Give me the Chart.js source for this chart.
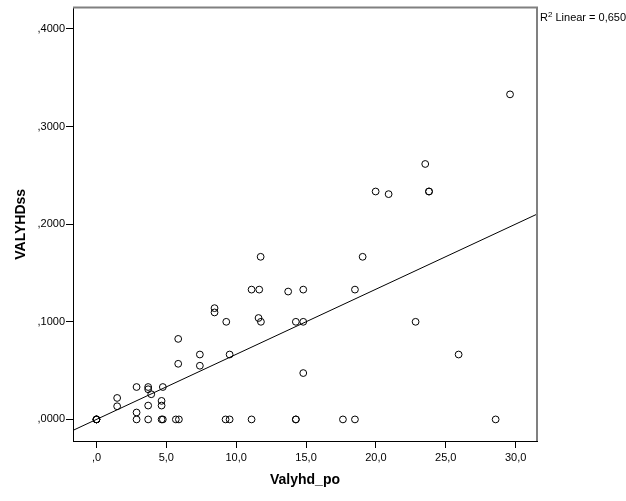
<!DOCTYPE html>
<html lang="en">

<head>
  <script src="https://cdn.jsdelivr.net/npm/chart.js@4/dist/chart.umd.min.js"></script>
  <title>Valyhd_po vs VALYHDss</title>
  <style>
    body { margin: 0; background: #fff; }
    #wrap { width: 626px; height: 501px; }
  </style>
</head>

<body>
  <div id="wrap"><canvas id="myChart" width="626" height="501"></canvas></div>

  <script>
    var valyhdPo = [0, 0, 0, 0, 1.48, 1.48, 2.87, 2.87, 2.87, 3.70, 3.70, 3.92, 3.70, 3.70,
      4.75, 4.66, 4.66, 4.66, 4.75, 5.68, 5.90, 5.85, 5.85, 7.40, 7.40, 8.45, 8.45, 9.29,
      9.53, 9.24, 9.53, 11.10, 11.10, 11.65, 11.75, 11.60, 11.77, 13.72, 14.80, 14.27,
      14.80, 14.80, 14.27, 14.27, 17.64, 18.50, 18.50, 19.05, 19.98, 20.91, 22.84, 23.53,
      23.80, 23.80, 25.92, 28.57, 29.60];
    var valyhdSs = [0, 0, 0, 0, 0.022, 0.0135, 0.0332, 0.0071, 0, 0.0332, 0.0309, 0.0258, 0.0142, 0,
      0.0332, 0.019, 0.0142, 0, 0, 0, 0, 0.0825, 0.057, 0.0665, 0.055, 0.114, 0.1096, 0.100,
      0.0665, 0, 0, 0, 0.133, 0.133, 0.1666, 0.1039, 0.100, 0.131, 0.133, 0.100,
      0.100, 0.0475, 0, 0, 0, 0, 0.133, 0.1666, 0.2335, 0.2308, 0.100, 0.2617,
      0.2335, 0.2335, 0.0665, 0, 0.333];

    // fit line
    var fitSlope = 0.00667;
    var fitIntercept = 0.0;
    var rSquaredText = '0,650';

    var xMin = -1.68, xMax = 31.53;
    var yMin = -0.0221, yMax = 0.4219;
    var xTicks = [0, 5, 10, 15, 20, 25, 30];
    var yTicks = [0, 0.1, 0.2, 0.3, 0.4];

    var points = valyhdPo.map(function(x, i) {
      return { x: x, y: valyhdSs[i] };
    });

    var fitLine = [xMin, xMax].map(function(x) {
      return { x: x, y: fitIntercept + fitSlope * x };
    });

    function spssNum(v, d) {
      return v.toFixed(d).replace('.', ',').replace(/^0,/, ',');
    }

    var FONT = 'Arial, "Liberation Sans", sans-serif';

    // gray top/right frame + R2 label
    var framePlugin = {
      id: 'frame',
      afterDraw: function(chart) {
        var ctx = chart.ctx, a = chart.chartArea;
        ctx.save();
        ctx.strokeStyle = '#808080';
        ctx.lineWidth = 2;
        ctx.beginPath();
        ctx.moveTo(a.left, a.top);
        ctx.lineTo(a.right, a.top);
        ctx.lineTo(a.right, a.bottom);
        ctx.stroke();

        ctx.fillStyle = '#000';
        ctx.textBaseline = 'alphabetic';
        ctx.font = '11px ' + FONT;
        var x = a.right + 3, y = a.top + 13;
        ctx.fillText('R', x, y);
        x += ctx.measureText('R').width;
        ctx.font = '8px ' + FONT;
        ctx.fillText('2', x, y - 4);
        x += ctx.measureText('2').width;
        ctx.font = '11px ' + FONT;
        ctx.fillText(' Linear = ' + rSquaredText, x, y);
        ctx.restore();
      }
    };

    const config = {
      type: 'scatter',
      data: {
        datasets: [{
          label: 'VALYHDss',
          data: points,
          pointStyle: 'circle',
          pointRadius: 3.4,
          pointBorderWidth: 1,
          pointBorderColor: '#000',
          pointBackgroundColor: 'rgba(255,255,255,0)',
          pointHoverRadius: 3.4
        }, {
          type: 'line',
          label: 'Linear',
          data: fitLine,
          borderColor: '#000',
          borderWidth: 1,
          pointRadius: 0,
          fill: false
        }]
      },
      options: {
        responsive: false,
        animation: false,
        layout: { padding: { top: 5, right: 89, left: 0, bottom: 0 } },
        plugins: {
          legend: { display: false },
          tooltip: { enabled: false }
        },
        scales: {
          x: {
            type: 'linear',
            min: xMin,
            max: xMax,
            afterBuildTicks: function(axis) {
              axis.ticks = xTicks.map(function(v) { return { value: v }; });
            },
            afterFit: function(axis) { axis.height = 60; },
            border: { color: '#000', width: 1 },
            grid: { drawOnChartArea: false, color: '#000', tickLength: 7 },
            ticks: {
              color: '#000',
              padding: 3,
              font: { family: FONT, size: 11 },
              callback: function(v) { return spssNum(v, 1); }
            },
            title: {
              display: true,
              text: 'Valyhd_po',
              color: '#000',
              font: { family: FONT, size: 14, weight: 'bold' },
              padding: { top: 0, bottom: 12 }
            }
          },
          y: {
            type: 'linear',
            min: yMin,
            max: yMax,
            afterBuildTicks: function(axis) {
              axis.ticks = yTicks.map(function(v) { return { value: v }; });
            },
            afterFit: function(axis) { axis.width = 73; },
            border: { color: '#000', width: 1 },
            grid: { drawOnChartArea: false, color: '#000', tickLength: 7 },
            ticks: {
              color: '#000',
              padding: 1,
              font: { family: FONT, size: 11 },
              callback: function(v) { return spssNum(v, 4); }
            },
            title: {
              display: true,
              text: 'VALYHDss',
              color: '#000',
              font: { family: FONT, size: 14, weight: 'bold' },
              padding: { top: 13, bottom: 0 }
            }
          }
        }
      },
      plugins: [framePlugin]
    };

    var myChart = new Chart(document.getElementById('myChart'), config);
  </script>
</body>

</html>
